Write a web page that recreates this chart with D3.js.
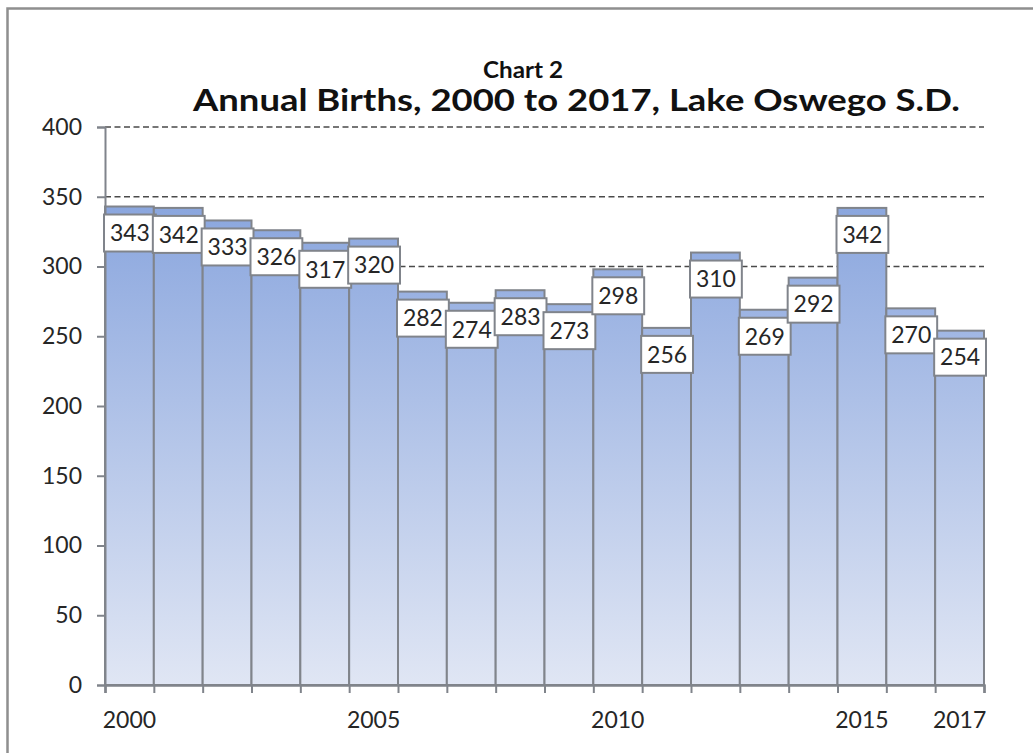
<!DOCTYPE html>
<html>
<head>
<meta charset="utf-8">
<script src="https://cdn.jsdelivr.net/npm/d3@7"></script>
<style>
  html, body { margin: 0; padding: 0; background: #ffffff; }
  svg { display: block; }
</style>
</head>
<body>
<svg id="chart" width="1033" height="753"></svg>
<script>
// Annual births, Lake Oswego School District
const years = [2000, 2001, 2002, 2003, 2004, 2005, 2006, 2007, 2008,
               2009, 2010, 2011, 2012, 2013, 2014, 2015, 2016, 2017];
const births = [343, 342, 333, 326, 317, 320, 282, 274, 283,
                273, 298, 256, 310, 269, 292, 342, 270, 254];
const yTicks = [0, 50, 100, 150, 200, 250, 300, 350, 400];
const xLabelYears = [2000, 2005, 2010, 2015, 2017];
const subTitle = "Chart 2";
const mainTitle = "Annual Births, 2000 to 2017, Lake Oswego S.D.";

const data = years.map((yr, i) => ({ year: yr, value: births[i] }));

const svg = d3.select("#chart");
const W = 1033, H = 753;
const plot = { left: 105, right: 984, top: 127, bottom: 685 };
const font = "Lato, 'Open Sans', sans-serif";
const textColor = "#262626";
const lineColor = "#80848b";

svg.append("rect").attr("width", W).attr("height", H).attr("fill", "#fff");

// outer frame
svg.append("rect")
  .attr("x", 7.5).attr("y", 8.5)
  .attr("width", W + 20).attr("height", H + 20)
  .attr("fill", "none").attr("stroke", "#8f8f8f").attr("stroke-width", 2.5);

const x = d3.scaleBand().domain(years).range([plot.left, plot.right]).padding(0);
const xEdge = d3.scaleLinear().domain([years[0], years[years.length - 1] + 1])
  .range([plot.left, plot.right]);
const y = d3.scaleLinear().domain([0, 400]).range([plot.bottom, plot.top]);

// bar gradient, darker blue at the top fading to pale at the baseline
const defs = svg.append("defs");
const grad = defs.append("linearGradient")
  .attr("id", "barFill")
  .attr("gradientUnits", "userSpaceOnUse")
  .attr("x1", 0).attr("x2", 0)
  .attr("y1", y(345)).attr("y2", y(0));
grad.append("stop").attr("offset", "0%").attr("stop-color", "#8aa6de");
grad.append("stop").attr("offset", "100%").attr("stop-color", "#e0e6f4");

// horizontal gridlines
svg.append("g")
  .selectAll("line")
  .data(yTicks.filter(v => v > 0))
  .join("line")
  .attr("x1", plot.left).attr("x2", plot.right)
  .attr("y1", d => y(d)).attr("y2", d => y(d))
  .attr("stroke", "#4a4a4a")
  .attr("stroke-width", 1.3)
  .attr("stroke-dasharray", "6,3.5");

// bars
svg.append("g")
  .selectAll("rect")
  .data(data)
  .join("rect")
  .attr("x", d => x(d.year))
  .attr("width", x.bandwidth())
  .attr("y", d => y(d.value))
  .attr("height", d => y(0) - y(d.value))
  .attr("fill", "url(#barFill)")
  .attr("stroke", lineColor)
  .attr("stroke-width", 2);

// y axis
const yAxis = svg.append("g")
  .attr("transform", `translate(${plot.left},0)`)
  .call(d3.axisLeft(y).tickValues(yTicks).tickSize(8).tickPadding(15));
yAxis.select(".domain").attr("stroke", lineColor).attr("stroke-width", 2);
yAxis.selectAll(".tick line").attr("stroke", lineColor).attr("stroke-width", 2);
yAxis.selectAll(".tick text")
  .attr("font-family", font).attr("font-size", 23)
  .attr("fill", textColor);

// x axis: tick marks at every year boundary
const xTickAxis = svg.append("g")
  .attr("transform", `translate(0,${plot.bottom})`)
  .call(d3.axisBottom(xEdge)
    .tickValues(d3.range(years[0], years[years.length - 1] + 2))
    .tickSize(8).tickFormat(""));
xTickAxis.select(".domain").attr("stroke", lineColor).attr("stroke-width", 2.5);
xTickAxis.selectAll(".tick line").attr("stroke", lineColor).attr("stroke-width", 2);

// x axis: year labels centred on their bars
const xLabelAxis = svg.append("g")
  .attr("transform", `translate(0,${plot.bottom})`)
  .call(d3.axisBottom(x).tickValues(xLabelYears).tickSize(0).tickPadding(27));
xLabelAxis.select(".domain").remove();
xLabelAxis.selectAll(".tick text")
  .attr("font-family", font).attr("font-size", 23)
  .attr("fill", textColor);

// value labels in boxed callouts near the top of each bar
const boxH = 37, boxOffset = 8, boxExtra = 3;
const labels = svg.append("g")
  .selectAll("g")
  .data(data)
  .join("g")
  .attr("transform", d => `translate(${x(d.year) - 1},${y(d.value) + boxOffset})`);
labels.append("rect")
  .attr("width", x.bandwidth() + boxExtra)
  .attr("height", boxH)
  .attr("fill", "#ffffff")
  .attr("stroke", lineColor)
  .attr("stroke-width", 2);
labels.append("text")
  .attr("x", (x.bandwidth() + boxExtra) / 2)
  .attr("y", boxH / 2)
  .attr("dy", "0.36em")
  .attr("text-anchor", "middle")
  .attr("font-family", font)
  .attr("font-size", 23)
  .attr("fill", textColor)
  .text(d => d.value);

// titles, stretched horizontally to span their measured widths
function stretchTo(sel, x0, target) {
  const w = sel.node().getComputedTextLength();
  const k = target / w;
  sel.attr("x", 0).attr("transform", `translate(${x0},${sel.attr("y")}) scale(${k},1)`)
    .attr("y", 0);
}
const t1 = svg.append("text")
  .attr("y", 78)
  .attr("font-family", font).attr("font-weight", "bold")
  .attr("font-size", 22).attr("fill", "#111")
  .text(subTitle);
stretchTo(t1, 483, 80);
const t2 = svg.append("text")
  .attr("y", 111)
  .attr("font-family", font).attr("font-weight", "bold")
  .attr("font-size", 30).attr("fill", "#111")
  .text(mainTitle);
stretchTo(t2, 193, 767);
</script>
</body>
</html>
